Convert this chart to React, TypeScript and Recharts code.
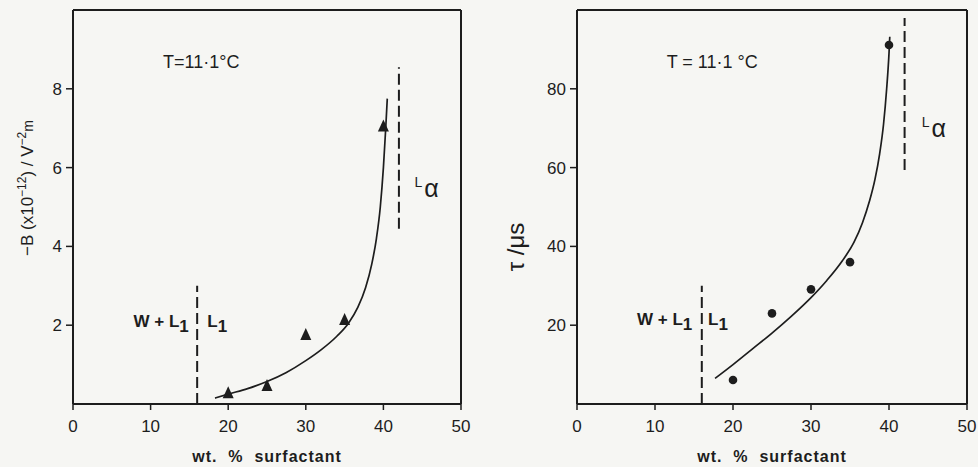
import React from 'react';
import {
    ComposedChart, XAxis, YAxis, Line, Scatter, ReferenceLine, ReferenceDot, Label
} from 'recharts';

// wt. % surfactant ticks
const xTicks = [0, 10, 20, 30, 40, 50];
const xDomain = [0, 50];
const bDomain = [0, 10];
const tauDomain = [0, 100];
const bTicks = [2, 4, 6, 8];
const tauTicks = [20, 40, 60, 80];

// left panel: -B (x10^-12) / V^-2 m
const bPointX = [20, 25, 30, 35, 40];
const bPointY = [0.27, 0.46, 1.75, 2.13, 7.04];
const bCurveX = [18.3, 20, 22.5, 25, 27.5, 30, 32, 34, 35.5, 36.7, 37.7, 38.5, 39.1, 39.6, 40.0, 40.3, 40.5];
const bCurveY = [0.15, 0.25, 0.39, 0.57, 0.8, 1.1, 1.38, 1.72, 2.05, 2.45, 2.95, 3.55, 4.2, 5.0, 6.0, 7.0, 7.75];

// right panel: tau / us
const tauPointX = [20, 25, 30, 35, 40];
const tauPointY = [6.1, 23.0, 29.1, 36.0, 91.1];
const tauCurveX = [17.7, 20, 22.5, 25, 27.5, 30, 32, 34, 35.5, 36.6, 37.5, 38.2, 38.8, 39.3, 39.7, 40.0, 40.1];
const tauCurveY = [6.5, 10, 14, 18, 22.3, 27, 31.3, 36.3, 41, 46, 51.5, 57, 63.5, 71, 80, 89, 93.2];

const INK = '#1d1d1d';
const FONT = '"Liberation Sans", Arial, sans-serif';
const TOP = 10;
const H = 467;
const XAXIS_H = 63;

const zip = (xs: number[], ys: number[]) => xs.map((x, i) => ({ x, y: ys[i] }));

const Triangle = (p: any) => (
    <polygon
        points={`${p.cx},${p.cy - 7} ${p.cx - 5.5},${p.cy + 5} ${p.cx + 5.5},${p.cy + 5}`}
        fill={INK}
    />
);

const Circle = (p: any) => <circle cx={p.cx} cy={p.cy} r={4.3} fill={INK} />;

// text placed at a data point (ReferenceDot with r=0)
const textAt = (render: (x: number, y: number) => React.ReactNode) => (props: any) => {
    const vb = props.viewBox || {};
    return render(vb.x, vb.y);
};

const tempLabel = (value: string) => textAt((x, y) => (
    <text x={x} y={y} fontSize={18} fontFamily={FONT} fill={INK}>{value}</text>
));

const phaseL1 = (withW: boolean) => textAt((x, y) => (
    <text x={x} y={y} fontSize={17} fontWeight="bold" fontFamily={FONT} fill={INK}>
        {withW ? 'W + L' : 'L'}
        <tspan dy={5} fontSize={17} fill={INK}>1</tspan>
    </text>
));

const phaseLa = textAt((x, y) => (
    <text x={x} y={y} fontFamily={FONT} fill={INK}>
        <tspan fontSize={14} dy={-10} fill={INK}>L</tspan>
        <tspan fontSize={25} dy={10} dx={2} fill={INK}>α</tspan>
    </text>
));

const axisLine = { stroke: INK, strokeWidth: 2 };
const tickLine = { stroke: INK, strokeWidth: 1.5 };
const tickStyle = { fill: INK, fontSize: 17, fontFamily: FONT };
const dash = '11 5';

const XLabel = () => (
    <Label
        content={(props: any) => {
            const vb = props.viewBox;
            return (
                <text x={vb.x + vb.width / 2} y={462} textAnchor="middle" fontSize={16}
                    fontWeight="bold" fontFamily={FONT} fill={INK} letterSpacing={1} style={{ whiteSpace: 'pre' }}>
                    wt.  %  surfactant
                </text>
            );
        }}
    />
);

// y axis title; also draws the top and right edges of the plot frame
const yTitle = (chartW: number, rightMargin: number, title: React.ReactNode) => (props: any) => {
    const vb = props.viewBox || {};
    const left = vb.x + vb.width;
    const right = chartW - rightMargin;
    const bottom = H - XAXIS_H;
    return (
        <g>
            <line x1={left} y1={TOP} x2={right} y2={TOP} stroke={INK} strokeWidth={2} />
            <line x1={right} y1={TOP} x2={right} y2={bottom} stroke={INK} strokeWidth={2} />
            {title}
        </g>
    );
};

const LeftPanel = () => (
    <ComposedChart width={489} height={H} margin={{ top: TOP, right: 28, bottom: 0, left: 0 }}>
        <XAxis type="number" dataKey="x" domain={xDomain} ticks={xTicks} height={XAXIS_H}
            axisLine={axisLine} tickLine={tickLine} tick={tickStyle} tickSize={6} tickMargin={10}>
            {XLabel()}
        </XAxis>
        <YAxis type="number" dataKey="y" domain={bDomain} ticks={bTicks} width={73}
            axisLine={axisLine} tickLine={tickLine} tick={tickStyle} tickSize={7} tickMargin={4}>
            <Label content={yTitle(489, 28, (
                <text transform="rotate(-90, 27, 188)" x={27} y={194} textAnchor="middle"
                    fontSize={17} fontFamily={FONT} fill={INK}>
                    −B (x10<tspan dy={-7} fontSize={12}>−12</tspan>
                    <tspan dy={7}>) / V</tspan>
                    <tspan dy={-7} fontSize={12}>−2</tspan>
                    <tspan dy={7} fontSize={14}>m</tspan>
                </text>
            ))} />
        </YAxis>
        <ReferenceLine segment={[{ x: 16, y: 0 }, { x: 16, y: 3 }]} stroke={INK} strokeWidth={2} strokeDasharray={dash} />
        <ReferenceLine segment={[{ x: 42, y: 4.45 }, { x: 42, y: 8.55 }]} stroke={INK} strokeWidth={2} strokeDasharray={dash} />
        <Line data={zip(bCurveX, bCurveY)} dataKey="y" type="monotone" stroke={INK} strokeWidth={1.7}
            dot={false} isAnimationActive={false} />
        <Scatter data={zip(bPointX, bPointY)} dataKey="y" shape={Triangle} isAnimationActive={false} />
        <ReferenceDot x={11.6} y={8.53} r={0} fill="none" stroke="none" label={{ content: tempLabel('T=11·1°C') }} />
        <ReferenceDot x={7.8} y={1.96} r={0} fill="none" stroke="none" label={{ content: phaseL1(true) }} />
        <ReferenceDot x={17.3} y={1.96} r={0} fill="none" stroke="none" label={{ content: phaseL1(false) }} />
        <ReferenceDot x={44.0} y={5.26} r={0} fill="none" stroke="none" label={{ content: phaseLa }} />
    </ComposedChart>
);

const RightPanel = () => (
    <ComposedChart width={489} height={H} margin={{ top: TOP, right: 11, bottom: 0, left: 0 }}>
        <XAxis type="number" dataKey="x" domain={xDomain} ticks={xTicks} height={XAXIS_H}
            axisLine={axisLine} tickLine={tickLine} tick={tickStyle} tickSize={6} tickMargin={10}>
            {XLabel()}
        </XAxis>
        <YAxis type="number" dataKey="y" domain={tauDomain} ticks={tauTicks} width={88}
            axisLine={axisLine} tickLine={tickLine} tick={tickStyle} tickSize={7} tickMargin={4}>
            <Label content={yTitle(489, 11, (
                <text transform="rotate(-90, 27, 247)" x={27} y={255} textAnchor="middle"
                    fontSize={24} fontFamily={FONT} fill={INK}>
                    τ /μs
                </text>
            ))} />
        </YAxis>
        <ReferenceLine segment={[{ x: 16, y: 0 }, { x: 16, y: 30 }]} stroke={INK} strokeWidth={2} strokeDasharray={dash} />
        <ReferenceLine segment={[{ x: 42, y: 59.4 }, { x: 42, y: 98 }]} stroke={INK} strokeWidth={2} strokeDasharray={dash} />
        <Line data={zip(tauCurveX, tauCurveY)} dataKey="y" type="monotone" stroke={INK} strokeWidth={1.7}
            dot={false} isAnimationActive={false} />
        <Scatter data={zip(tauPointX, tauPointY)} dataKey="y" shape={Circle} isAnimationActive={false} />
        <ReferenceDot x={11.5} y={85.3} r={0} fill="none" stroke="none" label={{ content: tempLabel('T = 11·1 °C') }} />
        <ReferenceDot x={7.7} y={20} r={0} fill="none" stroke="none" label={{ content: phaseL1(true) }} />
        <ReferenceDot x={16.8} y={20} r={0} fill="none" stroke="none" label={{ content: phaseL1(false) }} />
        <ReferenceDot x={44.2} y={67.8} r={0} fill="none" stroke="none" label={{ content: phaseLa }} />
    </ComposedChart>
);

export default function App() {
    return (
        <div style={{ position: 'absolute', left: 0, top: 0, width: 978, height: 467, background: '#f6f6f3', display: 'flex' }}>
            <LeftPanel />
            <RightPanel />
        </div>
    );
}
